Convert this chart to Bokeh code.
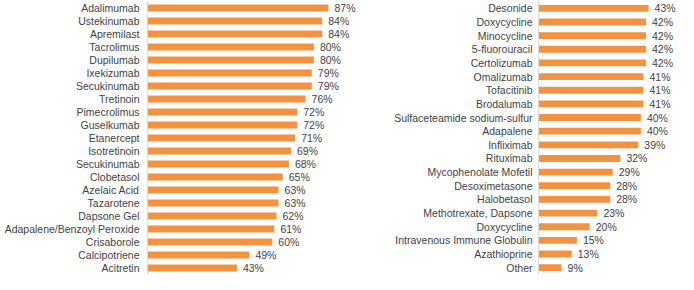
from bokeh.plotting import figure
from bokeh.layouts import row
from bokeh.models import ColumnDataSource, Range1d, FixedTicker
from bokeh.core.properties import value
from bokeh.embed import file_html
from bokeh.resources import INLINE

left_names = ["Adalimumab", "Ustekinumab", "Apremilast", "Tacrolimus", "Dupilumab",
              "Ixekizumab", "Secukinumab", "Tretinoin", "Pimecrolimus", "Guselkumab",
              "Etanercept", "Isotretinoin", "Secukinumab", "Clobetasol", "Azelaic Acid",
              "Tazarotene", "Dapsone Gel", "Adapalene/Benzoyl Peroxide", "Crisaborole",
              "Calcipotriene", "Acitretin"]
left_vals = [87, 84, 84, 80, 80, 79, 79, 76, 72, 72, 71, 69, 68, 65, 63, 63, 62, 61, 60, 49, 43]

right_names = ["Desonide", "Doxycycline", "Minocycline", "5-fluorouracil", "Certolizumab",
               "Omalizumab", "Tofacitinib", "Brodalumab", "Sulfaceteamide sodium-sulfur",
               "Adapalene", "Infliximab", "Rituximab", "Mycophenolate Mofetil",
               "Desoximetasone", "Halobetasol", "Methotrexate, Dapsone", "Doxycycline",
               "Intravenous Immune Globulin", "Azathioprine", "Other"]
right_vals = [43, 42, 42, 42, 42, 41, 41, 41, 40, 40, 39, 32, 29, 28, 28, 23, 20, 15, 13, 9]

BAR = "#F39240"
TXT = "#3f3f3f"
FONT = "Liberation Sans"


def panel(names, vals, width, height, border_left, border_top, xmax, bar_h, standoff):
    n = len(names)
    idx = list(range(n))
    src = ColumnDataSource(dict(y=idx, v=vals, lab=[f"{v}%" for v in vals]))
    p = figure(width=width, height=height, output_backend="svg", toolbar_location=None,
               x_range=Range1d(0, xmax), y_range=Range1d(n - 0.5, -0.5),
               min_border_left=border_left, min_border_right=0,
               min_border_top=border_top, min_border_bottom=0)
    p.hbar(y="y", right="v", left=0, height=bar_h, source=src, color=BAR, line_color=None)
    p.text(x="v", y="y", text="lab", source=src, x_offset=6, text_baseline="middle",
           text_align="left", text_font=value(FONT), text_font_size="10.5px", text_color=TXT)
    p.xaxis.visible = False
    p.xgrid.visible = False
    p.ygrid.visible = False
    p.outline_line_color = None
    ax = p.yaxis[0]
    ax.ticker = FixedTicker(ticks=idx)
    ax.major_label_overrides = {i: nm for i, nm in enumerate(names)}
    ax.major_tick_line_color = None
    ax.minor_tick_line_color = None
    ax.major_tick_out = 0
    ax.major_tick_in = 0
    ax.axis_line_color = "#d9d9d9"
    ax.major_label_standoff = standoff
    ax.major_label_text_font = FONT
    ax.major_label_text_font_size = "10.5px"
    ax.major_label_text_color = TXT
    p.background_fill_color = "white"
    p.border_fill_color = "white"
    return p


p1 = panel(left_names, left_vals, 382, 274, 147, 1, 235 / 2.08, 0.55, 8)
p2 = panel(right_names, right_vals, 296, 274, 156, 0, 140 / 2.56, 0.5, 6)

layout = row(p1, p2)
open("out.html", "w").write(file_html(layout, INLINE))
